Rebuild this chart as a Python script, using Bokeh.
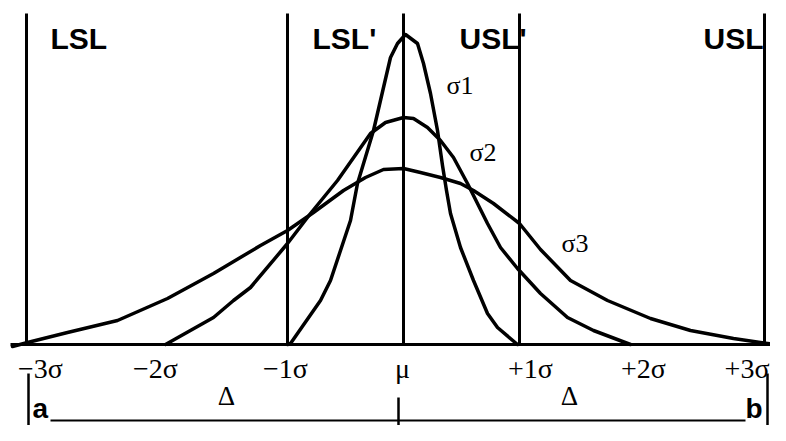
from bokeh.plotting import figure
from bokeh.models import Range1d
from bokeh.core.properties import value
from bokeh.embed import file_html
from bokeh.resources import INLINE

# Horizontal positions are offsets from the mean (mu); heights are above the baseline.
# Spec-limit verticals: LSL (-3s), LSL' (-1s), mu, USL' (+1s), USL (+3s)
limit_x = [-377, -116, 0, 116, 361]
limit_top = 331

# Curve sigma1 (narrow)
s1_x = [-116, -113, -83, -73, -63, -53, -46, -30, -20, -13, -6, 2, 14, 20, 27, 34, 39, 43, 47, 57, 70, 84, 94, 114]
s1_y = [0, 1, 44, 64, 94, 124, 161, 214, 257, 287, 301, 310, 301, 281, 251, 214, 179, 154, 131, 97, 64, 31, 17, 0]

# Curve sigma2 (medium)
s2_x = [-238, -190, -170, -153, -116, -93, -66, -33, -18, 0, 10, 24, 37, 50, 64, 84, 97, 114, 137, 164, 190, 227]
s2_y = [0, 27, 44, 57, 101, 131, 164, 211, 222, 227, 226, 217, 204, 187, 161, 121, 97, 76, 51, 27, 14, 0]

# Curve sigma3 (wide)
s3_x = [-391, -376, -336, -286, -236, -190, -143, -116, -90, -60, -38, -20, 0, 17, 37, 57, 70, 90, 116, 137, 167, 204, 247, 287, 330, 364, 372]
s3_y = [-2, 2, 12, 24, 46, 71, 99, 114, 132, 154, 167, 175, 176, 172, 167, 161, 154, 141, 121, 95, 64, 44, 26, 14, 6, 1, 0]

# Baseline extent
base_x = [-393, 375]

# Tick labels under the baseline
tick_labels = ["\u22123\u03c3", "\u22122\u03c3", "\u22121\u03c3", "\u03bc", "+1\u03c3", "+2\u03c3", "+3\u03c3"]
tick_label_x = [-363, -248, -118, -1, 127, 240, 366]
tick_label_align = ["center", "center", "center", "center", "center", "center", "right"]

# Spec-limit labels
limit_labels = ["LSL", "LSL'", "USL'", "USL"]
limit_label_x = [-353, -91, 56, 300]

# Curve labels
curve_labels = ["\u03c31", "\u03c32", "\u03c33"]
curve_label_x = [43, 66, 158]
curve_label_y = [259, 192, 101]

# Delta labels
delta_labels = ["\u0394", "\u0394"]
delta_x = [-177, 166]

# Bottom dimension bar: a ... mu ... b
bar_left_x = -375
bar_mid_x = -5
bar_right_x = 364
bar_y = -76
bar_line_x = [-353, 342]
end_labels = ["a", "b"]
end_label_x = [-371, 342]

p = figure(width=770, height=425, output_backend="svg", toolbar_location=None,
           x_range=Range1d(-403, 367), y_range=Range1d(-81, 344),
           min_border=0, outline_line_color=None)
p.axis.visible = False
p.grid.visible = False
p.background_fill_color = "white"
p.border_fill_color = "white"

ink = "black"
serif = value("Liberation Serif")
sans = value("Liberation Sans")

# vertical spec-limit lines
p.segment(x0=limit_x, y0=[0] * len(limit_x), x1=limit_x, y1=[limit_top] * len(limit_x),
          line_color=ink, line_width=3)

# baseline
p.line(x=base_x, y=[0, 0], line_color=ink, line_width=3)

# curves
for xs, ys in [(s1_x, s1_y), (s2_x, s2_y), (s3_x, s3_y)]:
    p.line(x=xs, y=ys, line_color=ink, line_width=3.5, line_join="round", line_cap="round")

# bottom dimension bar
p.segment(x0=[bar_left_x, bar_mid_x, bar_right_x], y0=[-29, -53, -29],
          x1=[bar_left_x, bar_mid_x, bar_right_x], y1=[-100, -100, -100],
          line_color=ink, line_width=2.5)
p.line(x=bar_line_x, y=[bar_y, bar_y], line_color=ink, line_width=2)

# texts
p.text(x=limit_label_x, y=[306] * 4, text=limit_labels, text_font=sans, text_font_style="bold",
       text_font_size="30px", text_color=ink, text_align="left", text_baseline="alphabetic")
p.text(x=tick_label_x, y=[-24] * len(tick_labels), text=tick_labels, text_font=serif,
       text_font_size="28px", text_color=ink, text_align=tick_label_align, text_baseline="alphabetic")
p.text(x=curve_label_x, y=curve_label_y, text=curve_labels, text_font=serif,
       text_font_size="26px", text_color=ink, text_align="left", text_baseline="alphabetic")
p.text(x=delta_x, y=[-51, -51], text=delta_labels, text_font=serif,
       text_font_size="27px", text_color=ink, text_align="center", text_baseline="alphabetic")
p.text(x=end_label_x, y=[-79, -79], text=end_labels, text_font=sans, text_font_style="bold",
       text_font_size="28px", text_color=ink, text_align="left", text_baseline="bottom")

open("out.html", "w").write(file_html(p, INLINE))
